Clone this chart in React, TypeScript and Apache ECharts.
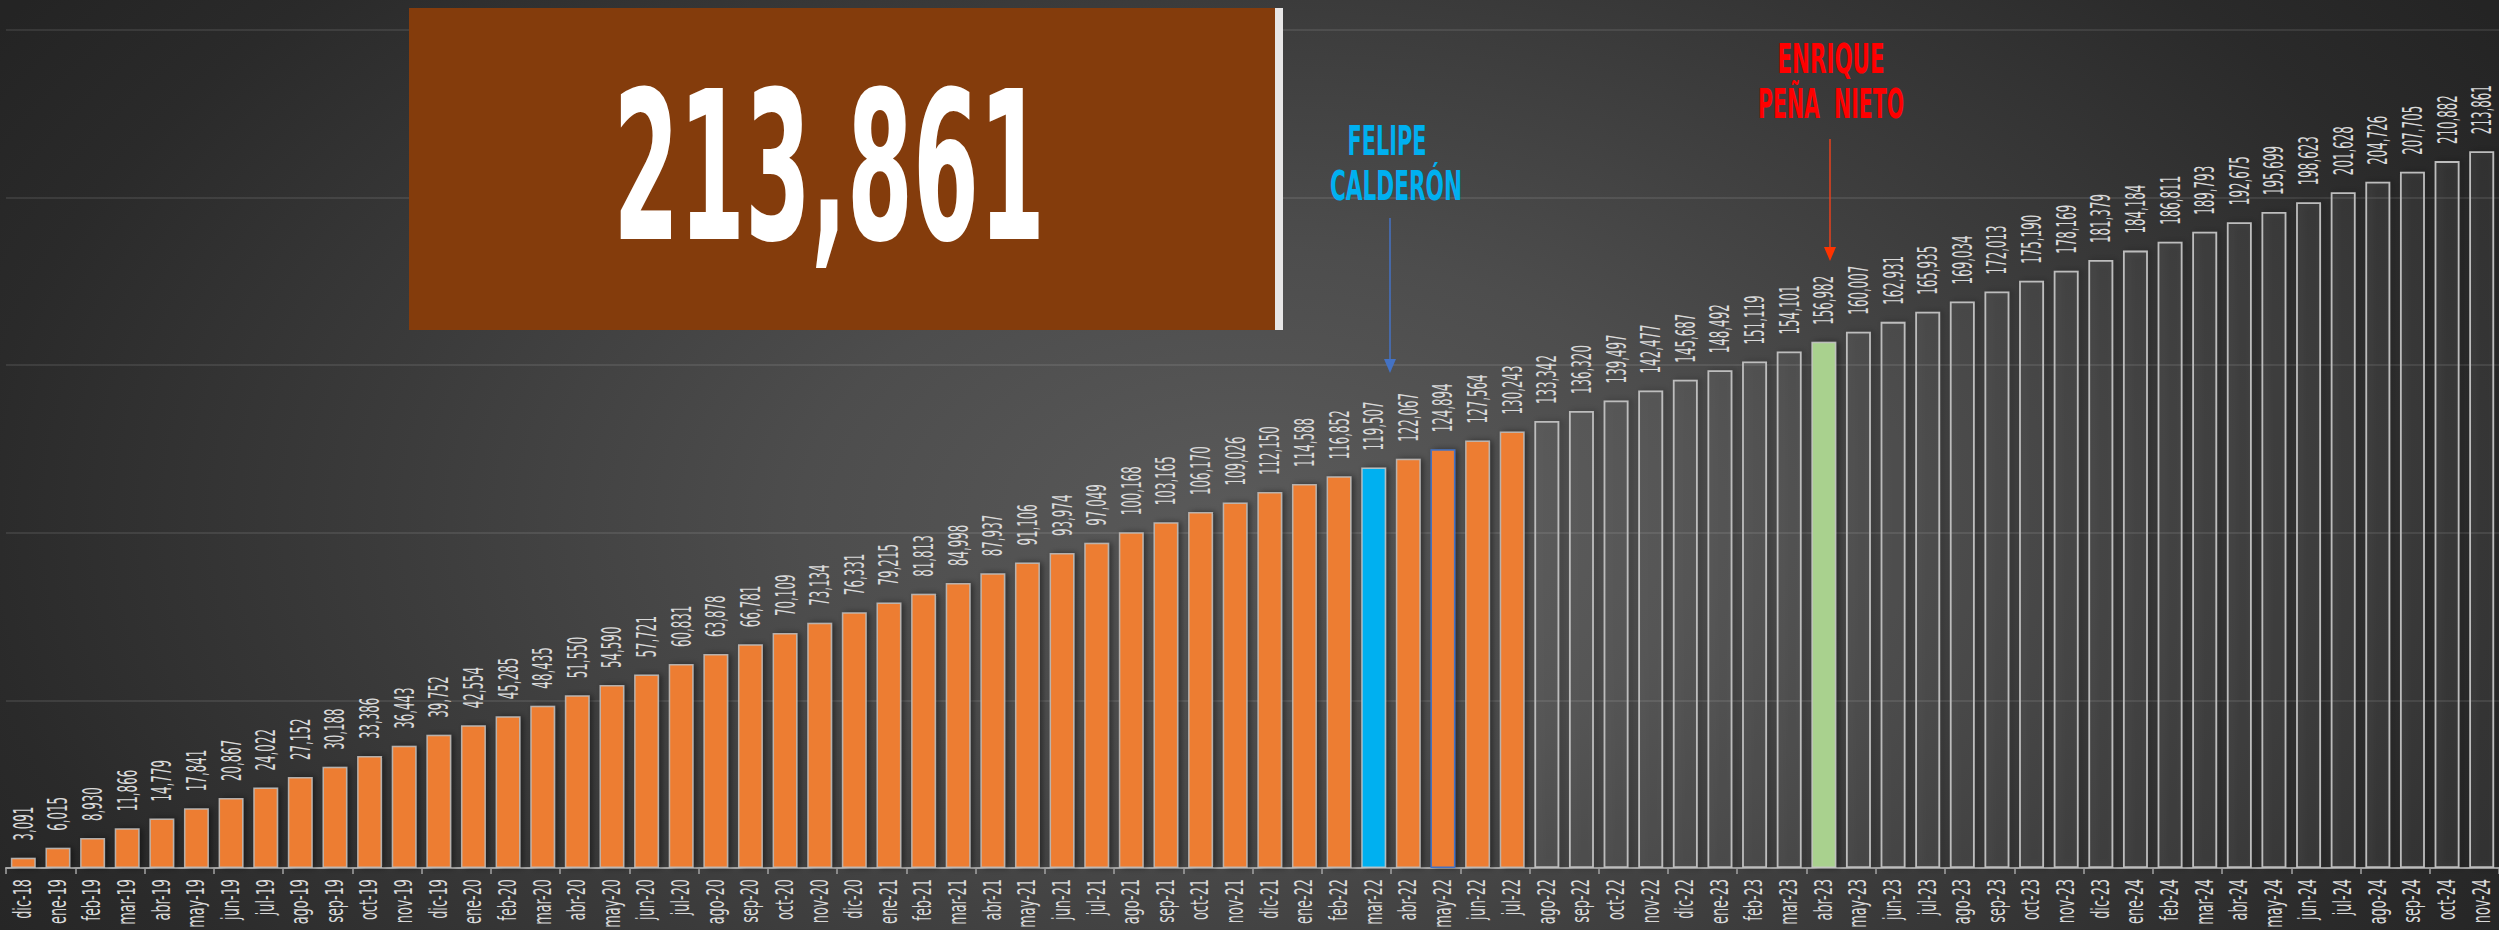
import React, { useEffect, useRef } from 'react';
import * as echarts from 'echarts';

// ---------- data ----------
const months: string[] = [
  'dic-18',
  'ene-19', 'feb-19', 'mar-19', 'abr-19', 'may-19', 'jun-19', 'jul-19', 'ago-19', 'sep-19', 'oct-19', 'nov-19', 'dic-19',
  'ene-20', 'feb-20', 'mar-20', 'abr-20', 'may-20', 'jun-20', 'jul-20', 'ago-20', 'sep-20', 'oct-20', 'nov-20', 'dic-20',
  'ene-21', 'feb-21', 'mar-21', 'abr-21', 'may-21', 'jun-21', 'jul-21', 'ago-21', 'sep-21', 'oct-21', 'nov-21', 'dic-21',
  'ene-22', 'feb-22', 'mar-22', 'abr-22', 'may-22', 'jun-22', 'jul-22', 'ago-22', 'sep-22', 'oct-22', 'nov-22', 'dic-22',
  'ene-23', 'feb-23', 'mar-23', 'abr-23', 'may-23', 'jun-23', 'jul-23', 'ago-23', 'sep-23', 'oct-23', 'nov-23', 'dic-23',
  'ene-24', 'feb-24', 'mar-24', 'abr-24', 'may-24', 'jun-24', 'jul-24', 'ago-24', 'sep-24', 'oct-24', 'nov-24',
];

const values: number[] = [
  3091,
  6015, 8930, 11866, 14779, 17841, 20867, 24022, 27152, 30188, 33386, 36443, 39752,
  42554, 45285, 48435, 51550, 54590, 57721, 60831, 63878, 66781, 70109, 73134, 76331,
  79215, 81813, 84998, 87937, 91106, 93974, 97049, 100168, 103165, 106170, 109026, 112150,
  114588, 116852, 119507, 122067, 124894, 127564, 130243, 133342, 136320, 139497, 142477, 145687,
  148492, 151119, 154101, 156982, 160007, 162931, 165935, 169034, 172013, 175190, 178169, 181379,
  184184, 186811, 189793, 192675, 195699, 198623, 201628, 204726, 207705, 210882, 213861,
];

const yMin = 0;
const yMax = 250000;
const yStep = 50000;

const calderonMonth = 'mar-22';
const epnMonth = 'abr-23';
const lastFilledMonth = 'jul-22';
const blueEdgeMonth = 'may-22';

const calderonLines = ['FELIPE', 'CALDERÓN'];
const epnLines = ['ENRIQUE', 'PEÑA  NIETO'];

// ---------- styling ----------
const W = 2499;
const H = 930;
const NARROW = "'Liberation Sans Narrow', 'Arial Narrow', 'DejaVu Sans Condensed', sans-serif";

const fmt = (v: number) => v.toLocaleString('en-US');

function textWidth(text: string, font: string): number {
  const c = document.createElement('canvas').getContext('2d');
  if (!c) return text.length * 10;
  c.font = font;
  return c.measureText(text).width || text.length * 10;
}

export default function App() {
  const ref = useRef<HTMLDivElement>(null);

  useEffect(() => {
    if (!ref.current) return;
    const chart = echarts.init(ref.current, null, { renderer: 'svg', width: W, height: H });

    const iCal = months.indexOf(calderonMonth);
    const iEpn = months.indexOf(epnMonth);
    const iLast = months.indexOf(lastFilledMonth);
    const iBlueEdge = months.indexOf(blueEdgeMonth);

    const shadow = {
      shadowColor: 'rgba(0,0,0,0.45)',
      shadowBlur: 6,
      shadowOffsetX: 3,
      shadowOffsetY: 0,
    };

    const barData = values.map((v, i) => {
      let itemStyle: any;
      if (i === iCal) {
        itemStyle = { color: '#00B0F0', borderColor: 'rgba(200,200,200,0.85)', borderWidth: 1.5 };
      } else if (i === iEpn) {
        itemStyle = { color: '#A9D18E', borderColor: 'rgba(200,200,200,0.85)', borderWidth: 1.5 };
      } else if (i <= iLast) {
        itemStyle = {
          color: '#ED7D31',
          borderColor: i === iBlueEdge ? '#4472C4' : 'rgba(190,190,190,0.85)',
          borderWidth: 1.5,
        };
      } else {
        itemStyle = { color: 'rgba(255,255,255,0.04)', borderColor: '#bdbdbd', borderWidth: 1.8 };
      }
      return { value: v, itemStyle: { ...itemStyle, ...shadow } };
    });

    // condensed look: draw texts with a horizontal squeeze measured from the installed font
    const valFont = `normal 27px ${NARROW}`;
    const valScale = 49 / textWidth(fmt(213861), valFont);

    const catFont = `normal 24px ${NARROW}`;
    const catScale = 45 / textWidth('ene-19', catFont);

    const total = fmt(values[values.length - 1]);
    const bigFont = `bold 207px ${NARROW}`;
    const bigScale = 432 / textWidth(total, bigFont);

    const annFont = `bold 40px ${NARROW}`;
    const annText = (text: string, cx: number, cy: number, target: number, fill: string) => ({
      type: 'text',
      x: cx,
      y: cy,
      scaleX: target / textWidth(text, annFont),
      z: 20,
      style: {
        text,
        fill,
        font: annFont,
        align: 'center',
        verticalAlign: 'middle',
        textAlign: 'center',
        textVerticalAlign: 'middle',
      },
    });

    const option: any = {
      animation: false,
      backgroundColor: 'transparent',
      grid: { left: 6, right: 0, top: 30, bottom: 62, outerBoundsMode: 'none' },
      xAxis: {
        type: 'category',
        data: months,
        boundaryGap: true,
        axisLine: { show: true, lineStyle: { color: '#a6a6a6', width: 2 } },
        axisTick: { show: true, length: 6, lineStyle: { color: '#a6a6a6', width: 1.5 } },
        axisLabel: { show: false },
        splitLine: { show: false },
      },
      yAxis: {
        type: 'value',
        min: yMin,
        max: yMax,
        interval: yStep,
        axisLabel: { show: false },
        axisLine: { show: false },
        axisTick: { show: false },
        splitLine: { show: true, lineStyle: { color: 'rgba(255,255,255,0.09)', width: 2 } },
      },
      series: [
        {
          type: 'bar',
          data: barData,
          barCategoryGap: '28%',
          z: 2,
        },
        {
          // value labels above the bars
          type: 'custom',
          silent: true,
          z: 5,
          data: values.map((v, i) => [i, v]),
          renderItem: (_params: any, api: any) => {
            const v = api.value(1);
            const p = api.coord([api.value(0), v]);
            return {
              type: 'text',
              x: p[0],
              y: p[1] - 17,
              rotation: Math.PI / 2,
              scaleX: valScale,
              scaleY: 1,
              style: {
                text: fmt(v),
                fill: '#d9d9d9',
                font: valFont,
                align: 'left',
                verticalAlign: 'middle',
                textAlign: 'left',
                textVerticalAlign: 'middle',
              },
            };
          },
        },
        {
          // month labels under the axis
          type: 'custom',
          silent: true,
          clip: false,
          z: 5,
          data: months.map((_m, i) => [i, yMin]),
          renderItem: (params: any, api: any) => {
            const p = api.coord([api.value(0), api.value(1)]);
            return {
              type: 'text',
              x: p[0],
              y: p[1] + 11,
              rotation: Math.PI / 2,
              scaleX: catScale,
              scaleY: 1,
              style: {
                text: months[params.dataIndex],
                fill: '#d9d9d9',
                font: catFont,
                align: 'right',
                verticalAlign: 'middle',
                textAlign: 'right',
                textVerticalAlign: 'middle',
              },
            };
          },
        },
      ],
      graphic: [
        { type: 'rect', z: 10, shape: { x: 409, y: 8, width: 866, height: 322 }, style: { fill: '#843C0C' } },
        { type: 'rect', z: 10, shape: { x: 1275, y: 8, width: 8, height: 322 }, style: { fill: '#e7e6e6' } },
        {
          type: 'text',
          x: 829,
          y: 168,
          scaleX: bigScale,
          z: 11,
          style: {
            text: total,
            fill: '#ffffff',
            font: bigFont,
            align: 'center',
            verticalAlign: 'middle',
            textAlign: 'center',
            textVerticalAlign: 'middle',
          },
        },
        annText(calderonLines[0], 1387, 142, 79, '#00B0F0'),
        annText(calderonLines[1], 1396, 186, 132, '#00B0F0'),
        annText(epnLines[0], 1831, 59, 107, '#FF0000'),
        annText(epnLines[1], 1831, 104, 146, '#FF0000'),
        {
          type: 'line', z: 12,
          shape: { x1: 1390, y1: 218, x2: 1390, y2: 362 },
          style: { stroke: '#4472C4', lineWidth: 1.5 },
        },
        {
          type: 'polygon', z: 12,
          shape: { points: [[1384, 359], [1396, 359], [1390, 373]] },
          style: { fill: '#4472C4' },
        },
        {
          type: 'line', z: 12,
          shape: { x1: 1830, y1: 139, x2: 1830, y2: 250 },
          style: { stroke: '#E8401C', lineWidth: 1.5 },
        },
        {
          type: 'polygon', z: 12,
          shape: { points: [[1824, 247], [1836, 247], [1830, 261]] },
          style: { fill: '#FF3300' },
        },
      ],
    };

    chart.setOption(option);
    return () => chart.dispose();
  }, []);

  return (
    <div
      ref={ref}
      style={{
        position: 'absolute',
        left: 0,
        top: 0,
        width: W,
        height: H,
        background:
          'radial-gradient(ellipse 1500px 900px at 1250px 520px, #5a5a5a 0%, #4d4d4d 30%, #3b3b3b 58%, #2a2a2a 85%, #242424 100%)',
      }}
    />
  );
}
